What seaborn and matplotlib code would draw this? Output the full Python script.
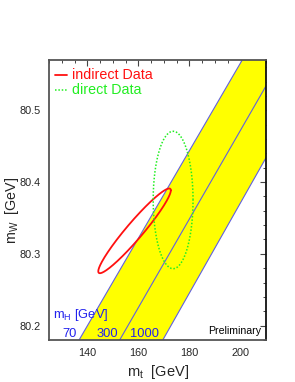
import numpy as np
import pandas as pd
import matplotlib
matplotlib.use("Agg")
import matplotlib.pyplot as plt
import seaborn as sns
from matplotlib.ticker import MultipleLocator

# ---------------- data ----------------
mt_ends = [125.0, 210.0]                 # top mass range of SM lines [GeV]
mh_labels = ["70", "300", "1000"]        # Higgs masses [GeV]
mw_mh70 = [80.108, 80.627]               # mW at mt_ends for mH=70
mw_mh300 = [80.009, 80.534]              # mW at mt_ends for mH=300
mw_mh1000 = [79.900, 80.434]             # mW at mt_ends for mH=1000

# indirect 68% contour: centre, half extents, correlation
ind_center = [158.5, 80.332]
ind_halfwidth = [14.2, 0.059]
ind_corr = 0.955
# direct 68% contour
dir_center = [173.6, 80.375]
dir_halfwidth = [7.8, 0.0957]
dir_corr = 0.0

xlim = (125, 210)
ylim = (80.18, 80.57)

# ---------------- style ----------------
sns.set_style("white")
plt.rcParams["font.family"] = ["Liberation Sans", "DejaVu Sans"]
plt.rcParams["mathtext.fontset"] = "custom"
plt.rcParams["mathtext.rm"] = "Liberation Sans"
plt.rcParams["mathtext.it"] = "Liberation Sans:italic"

fig = plt.figure(figsize=(2.95, 3.82), dpi=100)
ax = fig.add_axes([0.166, 0.110, 0.736, 0.733])

# SM band
lines = pd.DataFrame({
    "mt": mt_ends * 3,
    "mw": mw_mh70 + mw_mh300 + mw_mh1000,
    "mH": [m for m in mh_labels for _ in mt_ends],
})
ax.fill_between(mt_ends, mw_mh70, mw_mh1000, color="#ffff00", lw=0, zorder=1)
sns.lineplot(data=lines, x="mt", y="mw", units="mH", estimator=None,
             color="#6060e0", lw=0.8, ax=ax, zorder=2)


def contour(center, half, corr, n=300):
    t = np.linspace(0, 2 * np.pi, n)
    d = np.arccos(corr)
    return pd.DataFrame({"x": center[0] + half[0] * np.cos(t),
                         "y": center[1] + half[1] * np.cos(t - d)})


ind = contour(ind_center, ind_halfwidth, ind_corr)
dire = contour(dir_center, dir_halfwidth, dir_corr)
sns.lineplot(data=ind, x="x", y="y", sort=False, estimator=None,
             color="#ff1010", lw=1.3, ax=ax, zorder=3)
sns.lineplot(data=dire, x="x", y="y", sort=False, estimator=None,
             color="#22ee22", lw=1.1, ls=(0, (1, 1.2)), ax=ax, zorder=3)

ax.set_xlim(*xlim)
ax.set_ylim(*ylim)
ax.xaxis.set_major_locator(MultipleLocator(20))
ax.xaxis.set_minor_locator(MultipleLocator(5))
ax.yaxis.set_major_locator(MultipleLocator(0.1))
ax.yaxis.set_minor_locator(MultipleLocator(0.02))
ax.tick_params(which="both", direction="out", top=False, right=False,
               labelsize=7.8, color="#444444", pad=2)
ax.tick_params(which="major", length=4, width=0.8)
ax.tick_params(which="minor", length=2.5, width=0.7)
ax.yaxis.set_major_formatter(matplotlib.ticker.FormatStrFormatter("%.1f"))

for side in ["top", "right"]:
    sec = ax.secondary_xaxis("top") if side == "top" else ax.secondary_yaxis("right")
    axis = sec.xaxis if side == "top" else sec.yaxis
    if side == "top":
        axis.set_major_locator(MultipleLocator(20))
        axis.set_minor_locator(MultipleLocator(5))
    else:
        axis.set_major_locator(MultipleLocator(0.1))
        axis.set_minor_locator(MultipleLocator(0.02))
    sec.tick_params(which="both", direction="in", labelleft=False,
                    labeltop=False, labelright=False, labelbottom=False,
                    color="#444444")
    sec.tick_params(which="major", length=4, width=0.8)
    sec.tick_params(which="minor", length=2.5, width=0.7)
    for s in sec.spines.values():
        s.set_visible(False)

for name, s in ax.spines.items():
    s.set_visible(True)
    s.set_linewidth(1.3)
    s.set_color("#111111" if name == "right" else "#555555")

ax.set_xlabel(r"m$_{\rm t}$  [GeV]", fontsize=10.5, va="center")
ax.set_ylabel(r"m$_{\rm W}$  [GeV]", fontsize=10.3, va="center")
ax.xaxis.set_label_coords(0.5, -0.113)
ax.yaxis.set_label_coords(-0.168, 0.464)

# legend
ax.plot([0.028, 0.083], [0.946, 0.946], transform=ax.transAxes,
        color="#ff1010", lw=1.3, zorder=5)
ax.plot([0.028, 0.083], [0.893, 0.893], transform=ax.transAxes,
        color="#22ee22", lw=1.1, ls=(0, (1, 1.2)), zorder=5)
ax.text(0.104, 0.946, "indirect Data", transform=ax.transAxes,
        color="#ff1010", fontsize=10.3, va="center", ha="left")
ax.text(0.104, 0.893, "direct Data", transform=ax.transAxes,
        color="#22ee22", fontsize=10.3, va="center", ha="left")

# mH labels
blue = "#2222ee"
ax.text(0.018, 0.089, r"m$_{\rm H}$ [GeV]", transform=ax.transAxes,
        color=blue, fontsize=9.3, va="center", ha="left")
for lab, xc in zip(mh_labels, [69.5, 107.5, 144.0]):
    ax.text((xc - 49) / 217, 0.022, lab, transform=ax.transAxes,
            color=blue, fontsize=9.3, va="center", ha="center")
ax.text(0.976, 0.032, "Preliminary", transform=ax.transAxes,
        color="black", fontsize=7.6, va="center", ha="right")

fig.savefig("out.png", dpi=100)
